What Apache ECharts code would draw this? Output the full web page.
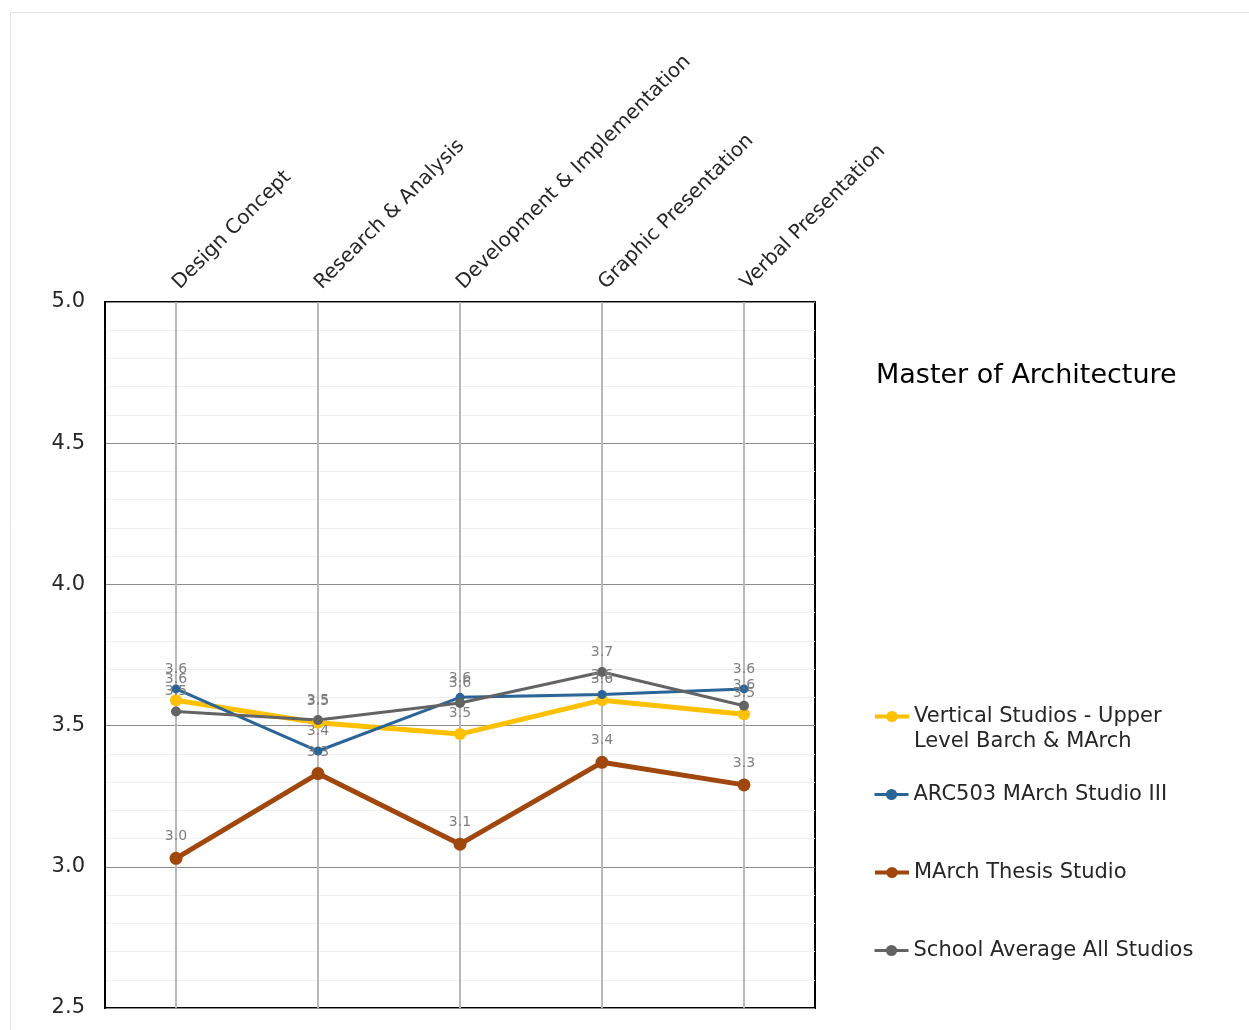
<!DOCTYPE html>
<html><head><meta charset="utf-8">
<script src="https://cdn.jsdelivr.net/npm/echarts@6/dist/echarts.min.js"></script>
<style>html,body{margin:0;padding:0;background:#fff}#c{width:1249px;height:1030px}</style>
</head><body><div id="c"></div>
<script>
const categories = ['Design Concept','Research & Analysis','Development & Implementation','Graphic Presentation','Verbal Presentation'];
const seriesNames = ['Vertical Studios - Upper Level Barch & MArch','ARC503 MArch Studio III','MArch Thesis Studio','School Average All Studios'];
const verticalStudios = [3.59, 3.51, 3.47, 3.59, 3.54];
const arc503 = [3.63, 3.41, 3.60, 3.61, 3.63];
const thesis = [3.03, 3.33, 3.08, 3.37, 3.29];
const schoolAvg = [3.55, 3.52, 3.58, 3.69, 3.57];
const yTicks = {min: 2.5, max: 5.0, interval: 0.5};

const FONT = 'DejaVu Sans';
const colors = ['#FFC000', '#2B6497', '#A0470D', '#636363'];
const widths = [5, 3, 5, 3];
const sizes = [12, 9, 13, 10];
const legendWidths = [4, 3, 4, 3];
const datas = [verticalStudios, arc503, thesis, schoolAvg];

const chart = echarts.init(document.getElementById('c'));
const series = datas.map((d, i) => ({
  name: seriesNames[i], type: 'line', data: d,
  symbol: 'circle', symbolSize: sizes[i],
  lineStyle: {color: colors[i], width: widths[i]},
  itemStyle: {color: colors[i]},
  label: {show: true, position: 'top', distance: 8, formatter: p => p.value.toFixed(1),
    color: '#7f7f7f', fontSize: 14, fontFamily: FONT},
  z: 3
}));
const legendTops = [679, 782, 860, 938];
const legends = seriesNames.map((n, i) => ({
  data: [n], left: 873, top: legendTops[i], orient: 'vertical', padding: 0,
  itemWidth: 34, itemHeight: 14, itemGap: 0,
  lineStyle: {width: legendWidths[i]},
  formatter: i === 0 ? () => '\nVertical Studios - Upper\nLevel Barch & MArch' : undefined,
  textStyle: {fontFamily: FONT, fontSize: 21, color: '#262626', lineHeight: 25},
  selectedMode: false
}));
chart.setOption({
  animation: false,
  textStyle: {fontFamily: FONT},
  graphic: [{type: 'rect', shape: {x: 10.5, y: 12.5, width: 1260, height: 1060}, style: {fill: 'none', stroke: '#e3e3e3', lineWidth: 1}, silent: true}],
  title: {text: 'Master of Architecture', left: 876, top: 362, padding: 0, textStyle: {fontFamily: FONT, fontSize: 27, fontWeight: 'normal', color: '#000'}},
  legend: legends,
  grid: {left: 105, right: 434, top: 302, bottom: 22, show: true, borderColor: '#000', borderWidth: 2, backgroundColor: 'transparent'},
  xAxis: {type: 'category', data: categories, position: 'top', boundaryGap: true,
    axisLine: {show: false}, axisTick: {show: false},
    axisLabel: {rotate: -45, margin: 16, fontSize: 20, color: '#262626', fontFamily: FONT, interval: 0},
    splitLine: {show: true, alignWithLabel: true, lineStyle: {color: '#b8b8b8', width: 2}}
  },
  yAxis: {type: 'value', min: yTicks.min, max: yTicks.max, interval: yTicks.interval,
    axisLine: {show: true, lineStyle: {color: '#000', width: 2}}, axisTick: {show: false},
    axisLabel: {formatter: v => v.toFixed(1), fontSize: 21, color: '#262626', margin: 20, fontFamily: FONT},
    splitLine: {show: true, lineStyle: {color: '#8c8c8c', width: 1}},
    minorTick: {show: false, splitNumber: 5},
    minorSplitLine: {show: true, lineStyle: {color: '#f0f0f0', width: 1}}
  },
  series: series
});
</script></body></html>
